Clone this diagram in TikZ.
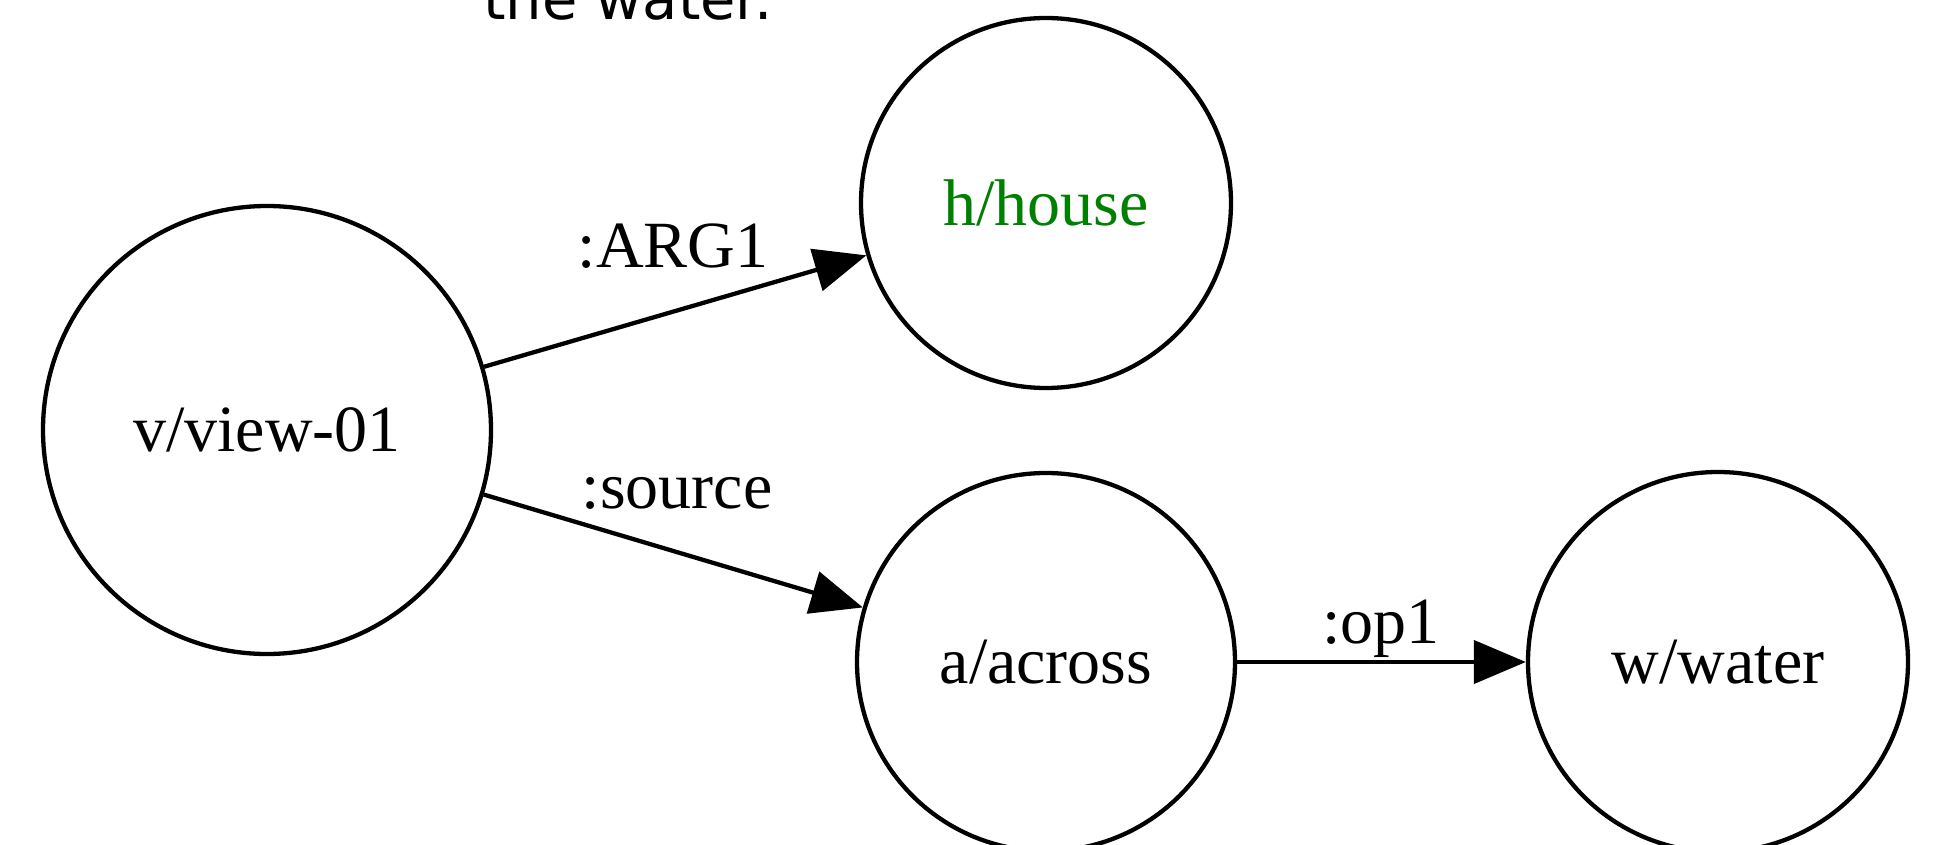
\documentclass[tikz,border=0pt]{standalone}
\usepackage{fontspec}
\setmainfont{Liberation Serif}
\newfontfamily\captionfont{DejaVu Sans}
\usetikzlibrary{arrows.meta}
\definecolor{housegreen}{RGB}{0,128,0}
\tikzset{
  concept/.style={circle, draw, line width=4.3pt, inner sep=0pt,
    font=\fontsize{66}{70}\selectfont},
  relation/.style={line width=4.3pt, -{Triangle[length=52pt,width=43pt]}},
  rellabel/.style={font=\fontsize{66}{70}\selectfont, anchor=base, inner sep=0pt},
}
\begin{document}
\begin{tikzpicture}[x=1pt, y=-1pt]
  \useasboundingbox (0,0) rectangle (1933,845);
  % caption fragment
  \node[font=\captionfont\fontsize{57.5}{60}\selectfont, anchor=base west, inner sep=0pt]
    (cap) at (483,20) {the water.};
  % concepts
  \node[concept, minimum size=448pt] (v) at (267,430) {v/view-01};
  \node[concept, minimum size=370pt, text=housegreen] (h) at (1046,203) {h/house};
  \node[concept, minimum size=378pt] (a) at (1046,662) {a/across};
  \node[concept, minimum size=380pt] (w) at (1718,662) {w/water};
  % relations
  \draw[relation] (v) -- (h);
  \draw[relation] (v) -- (a);
  \draw[relation] (a) -- (w);
  % relation labels
  \node[rellabel] (l1) at (673,267) {:ARG1};
  \node[rellabel] (l2) at (677,508) {:source};
  \node[rellabel] (l3) at (1381,643) {:op1};
\end{tikzpicture}
\end{document}
